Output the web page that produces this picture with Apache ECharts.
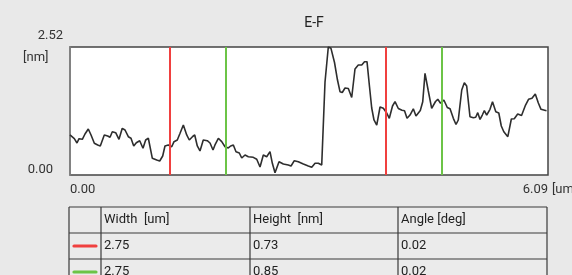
<!DOCTYPE html>
<html>
<head>
<meta charset="utf-8">
<script src="https://cdn.jsdelivr.net/npm/echarts@6/dist/echarts.min.js"></script>
<style>
html,body{margin:0;padding:0;background:#e9e9e9;}
#c{width:572px;height:275px;}
</style>
</head>
<body>
<div id="c"></div>
<script>
// ---- data ----
const title = 'E-F';
const xMin = 0, xMax = 6.09;
const yMin = 0, yMax = 2.52;
const xUnit = '[um]';
const yUnit = '[nm]';
const profileX = [0.000,0.025,0.055,0.089,0.115,0.157,0.191,0.233,0.268,0.310,0.353,0.386,0.437,0.480,0.510,0.539,0.582,0.624,0.666,0.701,0.743,0.777,0.812,0.845,0.888,0.930,0.964,0.998,1.049,1.105,1.143,1.181,1.210,1.252,1.296,1.325,1.367,1.402,1.444,1.487,1.520,1.563,1.589,1.622,1.656,1.698,1.749,1.784,1.822,1.847,1.890,1.933,1.975,2.017,2.047,2.081,2.115,2.157,2.188,2.230,2.272,2.335,2.379,2.421,2.463,2.506,2.548,2.578,2.612,2.663,2.718,2.781,2.816,2.858,2.909,2.973,3.036,3.080,3.122,3.164,3.207,3.249,3.291,3.325,3.370,3.408,3.440,3.469,3.504,3.546,3.589,3.631,3.673,3.717,3.752,3.784,3.816,3.844,3.873,3.908,3.950,3.992,4.035,4.068,4.109,4.141,4.183,4.230,4.262,4.294,4.332,4.374,4.408,4.463,4.494,4.523,4.565,4.608,4.657,4.686,4.721,4.763,4.807,4.842,4.884,4.918,4.947,4.991,5.024,5.054,5.096,5.139,5.169,5.195,5.224,5.253,5.279,5.309,5.351,5.383,5.425,5.463,5.495,5.527,5.578,5.623,5.660,5.704,5.753,5.804,5.842,5.886,5.928,5.967,6.001,6.071];
const profileY = [0.788,0.768,0.715,0.630,0.715,0.703,0.807,0.906,0.788,0.624,0.591,0.571,0.788,0.768,0.742,0.852,0.833,0.703,0.919,0.886,0.754,0.723,0.571,0.636,0.675,0.526,0.689,0.723,0.329,0.295,0.276,0.374,0.571,0.591,0.557,0.656,0.689,0.821,0.984,0.788,0.689,0.758,0.788,0.571,0.473,0.689,0.675,0.630,0.492,0.591,0.723,0.656,0.557,0.532,0.571,0.591,0.459,0.433,0.335,0.394,0.360,0.348,0.309,0.158,0.394,0.360,0.459,0.230,0.045,0.262,0.217,0.197,0.177,0.282,0.262,0.217,0.177,0.152,0.230,0.230,0.197,1.831,2.520,2.494,2.215,1.870,1.640,1.624,1.713,1.703,1.526,2.087,2.166,2.166,2.231,2.231,1.738,1.319,1.083,0.984,1.339,1.313,1.221,1.116,1.358,1.443,1.309,1.274,1.266,1.116,1.181,1.303,1.162,1.270,1.443,2.002,1.654,1.313,1.447,1.490,1.412,1.477,1.329,1.303,1.116,0.994,1.083,1.673,1.817,1.752,1.148,1.128,1.136,1.227,1.093,1.181,1.266,1.181,1.293,1.443,1.246,1.221,0.965,0.852,0.754,1.103,1.106,1.201,1.171,1.378,1.490,1.510,1.595,1.418,1.293,1.266];
const redCursors = [1.27, 4.02];
const greenCursors = [1.98, 4.73];
const tableHeaders = ['', 'Width  [um]', 'Height  [nm]', 'Angle [deg]'];
const tableRowColors = ['red', 'green'];
const tableRows = [
  ['2.75', '0.73', '0.02'],
  ['2.75', '0.85', '0.02']
];

// ---- styles ----
const FONT = 'Roboto';
const RED = '#f0403f';
const GREEN = '#6cc447';
const colorMap = {red: RED, green: GREEN};

const lineData = profileX.map((x, i) => [x, profileY[i]]);

// table graphics
const colX = [69, 101, 250, 398, 547];
const rowY = [207, 233, 259, 285];
const g = [];
g.push({type:'rect', shape:{x:colX[0], y:rowY[0], width:colX[4]-colX[0], height:rowY[3]-rowY[0]}, style:{fill:'#ebebeb'}, silent:true});
rowY.forEach(y => g.push({type:'line', shape:{x1:colX[0], y1:y, x2:colX[4], y2:y}, style:{stroke:'#3a3a3a', lineWidth:1.2}, silent:true}));
colX.forEach(x => g.push({type:'line', shape:{x1:x, y1:rowY[0], x2:x, y2:rowY[3]}, style:{stroke:'#3a3a3a', lineWidth:1.2}, silent:true}));
tableHeaders.forEach((h, i) => {
  if (!h) return;
  g.push({type:'text', x:colX[i]+3, y:(rowY[0]+rowY[1])/2, style:{text:h, font:'13px '+FONT, fill:'#222', verticalAlign:'middle'}, silent:true});
});
tableRows.forEach((row, r) => {
  const cy = (rowY[r+1]+rowY[r+2])/2;
  g.push({type:'line', shape:{x1:74, y1:cy, x2:96, y2:cy}, style:{stroke:colorMap[tableRowColors[r]], lineWidth:3.2, lineCap:'round'}, silent:true});
  row.forEach((v, c) => {
    g.push({type:'text', x:colX[c+1]+3, y:cy, style:{text:v, font:'13px '+FONT, fill:'#222', verticalAlign:'middle'}, silent:true});
  });
});
g.push({type:'text', x:23, y:58, style:{text:yUnit, font:'13px '+FONT, fill:'#333', verticalAlign:'middle'}, silent:true});

const chart = echarts.init(document.getElementById('c'));
chart.setOption({
  backgroundColor: '#e9e9e9',
  animation: false,
  title: {
    text: title, left: 309, top: 11, textAlign: 'center',
    textStyle: {fontFamily: FONT, fontSize: 14, fontWeight: 'normal', color: '#222'}
  },
  grid: {left: 70, right: 24, top: 47, bottom: 100, show: true, backgroundColor: '#ffffff', borderColor: '#444', borderWidth: 1.5, outerBoundsMode: 'none', containLabel: false},
  xAxis: {
    type: 'value', min: xMin, max: xMax, interval: xMax,
    name: xUnit, nameLocation: 'end', nameGap: 0,
    nameTextStyle: {fontFamily: FONT, fontSize: 13, color: '#333', verticalAlign: 'top', padding: [8, 0, 0, 0]},
    axisLine: {show: false}, axisTick: {show: false}, splitLine: {show: false},
    axisLabel: {
      fontFamily: FONT, fontSize: 13, color: '#333', margin: 8,
      showMinLabel: true, showMaxLabel: true,
      formatter: v => v.toFixed(2),
      alignMinLabel: 'left', alignMaxLabel: 'right'
    }
  },
  yAxis: {
    type: 'value', min: yMin, max: yMax, interval: yMax,
    axisLine: {show: true, lineStyle: {color: '#888', width: 1.5}}, axisTick: {show: false}, splitLine: {show: false},
    axisLabel: {
      fontFamily: FONT, fontSize: 13, color: '#333', margin: 7,
      showMinLabel: true, showMaxLabel: true,
      formatter: v => v === 0 ? '{b|' + v.toFixed(2) + '}' : '{t|' + v.toFixed(2) + '}',
      rich: {
        t: {fontFamily: FONT, fontSize: 13, color: '#333', padding: [0, 0, 22, 0]},
        b: {fontFamily: FONT, fontSize: 13, color: '#333', padding: [0, 10, 10, 0]}
      }
    }
  },
  series: [{
    type: 'line', data: lineData, showSymbol: false, smooth: false,
    lineStyle: {color: '#2e2e2e', width: 1.6},
    markLine: {
      silent: true, symbol: 'none', label: {show: false},
      data: redCursors.map(x => ({xAxis: x, lineStyle: {color: RED, width: 2, type: 'solid'}}))
        .concat(greenCursors.map(x => ({xAxis: x, lineStyle: {color: GREEN, width: 2, type: 'solid'}})))
    }
  }],
  graphic: g
});
</script>
</body>
</html>
